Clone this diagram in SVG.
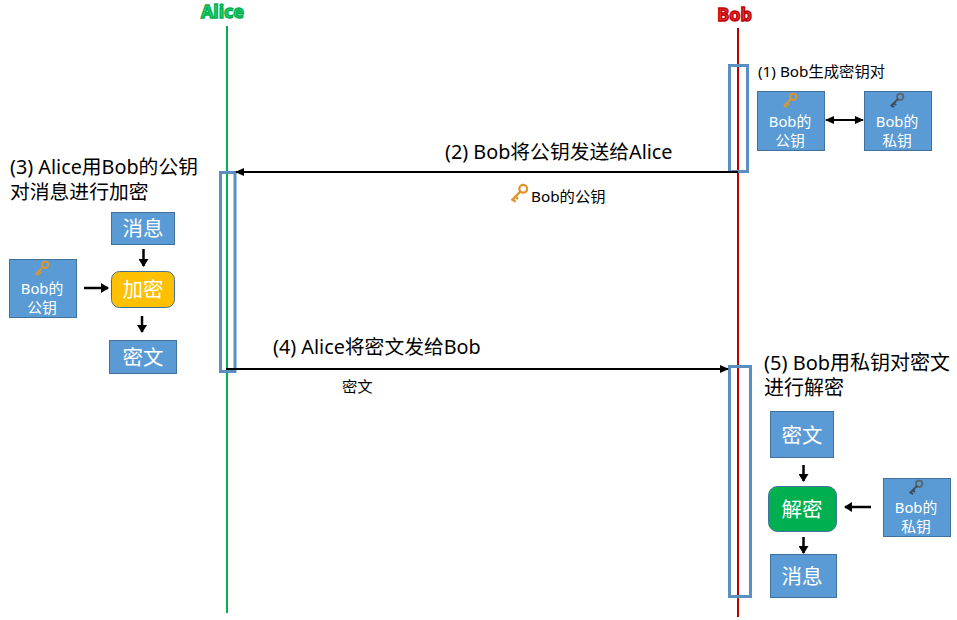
<svg xmlns="http://www.w3.org/2000/svg" width="957" height="620" viewBox="0 0 957 620">
<style>
text{font-family:"Noto Sans","Noto Sans CJK SC",sans-serif}
.box{fill:#5b9bd5;stroke:#41719c;stroke-width:1}
.w{fill:#fff;text-anchor:middle}
.s{font-size:14.800px}
.m{font-size:20.500px}
.t{fill:#000;font-size:19.800px}
.c{fill:#000;font-size:15.300px}
.act{fill:none;stroke:#5b8fc2;stroke-width:3}
.conn{stroke:#000;stroke-width:2;fill:none}
.thick{stroke:#000;stroke-width:2.5;fill:none}
.head{font-size:18px;font-weight:bold;text-anchor:middle;stroke-width:1.4}
</style>
<defs>
<marker id="a" markerWidth="9" markerHeight="8" refX="8" refY="4" orient="auto-start-reverse" markerUnits="userSpaceOnUse"><path d="M0 0L9 4L0 8Z" fill="#000"/></marker>
<marker id="b" markerWidth="8" markerHeight="10" refX="7" refY="5" orient="auto-start-reverse" markerUnits="userSpaceOnUse"><path d="M0 0L8 5L0 10Z" fill="#000"/></marker>
<g id="gold"><circle cx="4" cy="-4" r="3" fill="none" stroke="#e0952c" stroke-width="1.8"/><path d="M2-2L-5 5M-4 4L-2 6M-2 2L0 4" fill="none" stroke="#e0952c" stroke-width="1.8"/></g>
<g id="dark"><circle cx="4" cy="-4" r="3" fill="none" stroke="#5a6570" stroke-width="1.8"/><path d="M2-2L-5 5M-4 4L-2 6M-2 2L0 4" fill="none" stroke="#3f4a55" stroke-width="1.8"/></g>
</defs>
<g id="alice"><text class="head" x="222.500" y="18" fill="#2bd46a" stroke="#00b050">Alice</text><line x1="227" y1="26" x2="227" y2="613" stroke="#00b050" stroke-width="2"/></g>
<g id="bob"><text class="head" x="734.500" y="21" fill="#e8333a" stroke="#c00000">Bob</text><line x1="738" y1="28" x2="738" y2="617" stroke="#c00000" stroke-width="2"/></g>
<g id="act1"><rect class="act" x="729.500" y="65.500" width="18" height="106"/></g>
<g id="act2"><rect class="act" x="220.500" y="172.500" width="14.500" height="199"/></g>
<g id="act3"><rect class="act" x="729.500" y="366.500" width="21" height="230"/></g>
<g id="connectors">
<path class="conn" d="M738 172H236" marker-end="url(#a)"/>
<path class="conn" d="M226 369H728" marker-end="url(#a)"/>
<path class="conn" d="M826 120H863" marker-start="url(#a)" marker-end="url(#a)"/>
<path class="thick" d="M143.500 249V266" marker-end="url(#b)"/>
<path class="thick" d="M84 288H108" marker-end="url(#b)"/>
<path class="thick" d="M142 316V332" marker-end="url(#b)"/>
<path class="thick" d="M803.500 465V481" marker-end="url(#b)"/>
<path class="thick" d="M871 507H845" marker-end="url(#b)"/>
<path class="thick" d="M803.500 537V553" marker-end="url(#b)"/>
</g>
<g id="label1"><text class="c" x="758" y="77">(1) Bob生成密钥对</text></g>
<g id="label2"><text class="t" x="445" y="159">(2) Bob将公钥发送给Alice</text></g>
<g id="label2b"><use href="#gold" transform="translate(518 194) scale(1.300)"/><text class="c" x="531" y="202">Bob的公钥</text></g>
<g id="label3"><text class="t" x="10" y="174">(3) Alice用Bob的公钥</text><text class="t" x="10" y="199">对消息进行加密</text></g>
<g id="label4"><text class="t" x="273" y="354">(4) Alice将密文发给Bob</text></g>
<g id="label4b"><text class="c" x="342" y="392">密文</text></g>
<g id="label5"><text class="t" x="764" y="370" style="font-size:20px">(5) Bob用私钥对密文</text><text class="t" x="764" y="395" style="font-size:20px">进行解密</text></g>
<g id="pub1"><rect class="box" x="757.500" y="91.500" width="67" height="59"/><use href="#gold" transform="translate(789 101) scale(1.050)"/><text class="w s" x="790" y="127">Bob的</text><text class="w s" x="790" y="146">公钥</text></g>
<g id="priv1"><rect class="box" x="864.500" y="91.500" width="67" height="59"/><use href="#dark" transform="translate(896 101) scale(1.050)"/><text class="w s" x="897" y="127">Bob的</text><text class="w s" x="897" y="146">私钥</text></g>
<g id="msg1"><rect class="box" x="111.500" y="212.500" width="63" height="32"/><text class="w m" x="143" y="236">消息</text></g>
<g id="pub2"><rect class="box" x="9.500" y="259.500" width="67" height="58"/><use href="#gold" transform="translate(41 269) scale(1.050)"/><text class="w s" x="42" y="294">Bob的</text><text class="w s" x="42" y="313">公钥</text></g>
<g id="enc"><rect x="111.500" y="271.500" width="63" height="36" rx="8" fill="#ffc000" stroke="#41719c"/><text class="w m" x="143" y="297">加密</text></g>
<g id="cipher1"><rect class="box" x="109.500" y="340.500" width="67" height="33"/><text class="w m" x="143" y="365">密文</text></g>
<g id="cipher2"><rect class="box" x="770.500" y="411.500" width="63" height="46"/><text class="w m" x="802" y="443">密文</text></g>
<g id="dec"><rect x="768.500" y="486.500" width="68" height="45" rx="9" fill="#00b050" stroke="#41719c"/><text class="w m" x="802" y="517">解密</text></g>
<g id="msg2"><rect class="box" x="770.500" y="554.500" width="66" height="43"/><text class="w m" x="802" y="584">消息</text></g>
<g id="priv2"><rect class="box" x="883.500" y="478.500" width="67" height="58"/><use href="#dark" transform="translate(915 488) scale(1.050)"/><text class="w s" x="916" y="513">Bob的</text><text class="w s" x="916" y="532">私钥</text></g>
</svg>
